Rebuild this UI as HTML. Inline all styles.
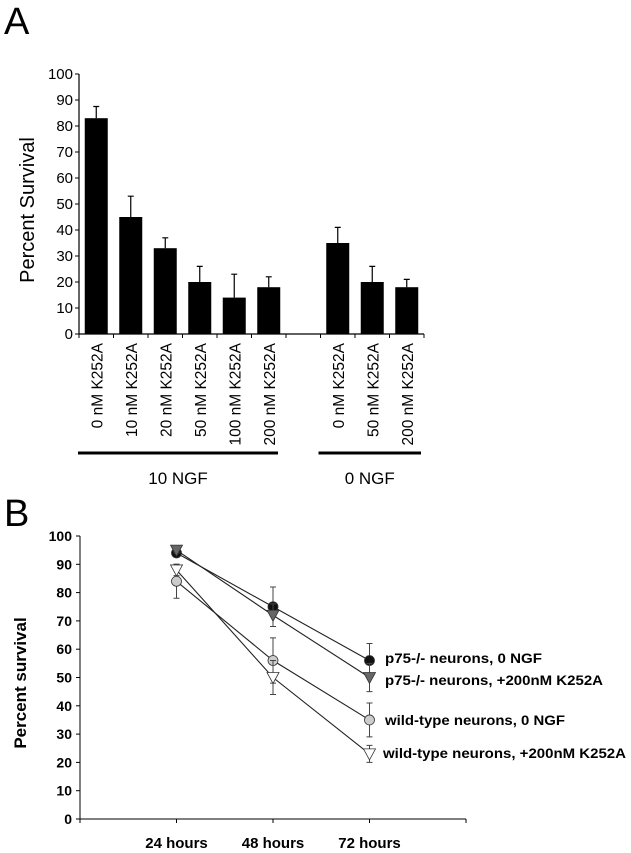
<!DOCTYPE html>
<html><head><meta charset="utf-8"><style>
html,body{margin:0;padding:0;background:#fff;}
svg{display:block;font-family:"Liberation Sans",Arial,sans-serif;}
</style></head><body>
<svg id="fig" width="631" height="853" viewBox="0 0 631 853">
<text x="4" y="34" font-size="38">A</text>
<text x="4" y="526" font-size="38">B</text>
<g id="chartA"></g>
<g id="chartB"></g>
</svg>
<script>
// ---- Chart A data ----
const catsA = ["0 nM K252A","10 nM K252A","20 nM K252A","50 nM K252A","100 nM K252A","200 nM K252A","","0 nM K252A","50 nM K252A","200 nM K252A"];
const valsA = [83,45,33,20,14,18,null,35,20,18];
const errsA = [4.5,8,4,6,9,4,null,6,6,3];
const ticksA = [0,10,20,30,40,50,60,70,80,90,100];
const groupsA = ["10 NGF","0 NGF"];
// ---- Chart B data ----
const timesB = ["24 hours","48 hours","72 hours"];
const seriesNamesB = ["p75-/- neurons, 0 NGF","p75-/- neurons, +200nM K252A","wild-type neurons, 0 NGF","wild-type neurons, +200nM K252A"];
const s1 = [94,75,56], e1 = [1,7,6];
const s2 = [95,72,50], e2 = [1,4,5];
const s3 = [84,56,35], e3 = [6,8,6];
const s4 = [88,50,23], e4 = [2,6,3];
const ticksB = [0,10,20,30,40,50,60,70,80,90,100];

const NS="http://www.w3.org/2000/svg";
function mk(parent,tag,attrs,text){const e=document.createElementNS(NS,tag);for(const k in attrs)e.setAttribute(k,attrs[k]);if(text!==undefined)e.textContent=text;parent.appendChild(e);return e;}

// Chart A
(function(){
const g=document.getElementById('chartA');
const x0=79,x1=424,y0=334,y1=74;
const slot=(x1-x0)/catsA.length;
const y=v=>y0-(v/100)*(y0-y1);
const cx=i=>x0+slot*(i+0.5);
let e=mk(g,'line',{x1:x0,y1:y0,x2:x0,y2:y1,stroke:'#000','stroke-width':1.2});

e=mk(g,'line',{x1:x0,y1:y0,x2:x1,y2:y0,stroke:'#000','stroke-width':1.2});

ticksA.forEach(t=>{
 mk(g,'line',{x1:x0-4,y1:y(t),x2:x0,y2:y(t),stroke:'#000'});
 e=mk(g,'text',{x:x0-6,y:y(t)+5,'font-size':15,'text-anchor':'end'},t);
 
});
for(let i=0;i<=catsA.length;i++) mk(g,'line',{x1:x0+slot*i,y1:y0,x2:x0+slot*i,y2:y0+4,stroke:'#000'});
e=mk(g,'text',{transform:`translate(34,210) rotate(-90)`,'font-size':20,'text-anchor':'middle'},'Percent Survival');

catsA.forEach((c,i)=>{
 if(valsA[i]!==null){
  const bw=23;
  e=mk(g,'rect',{x:cx(i)-bw/2,y:y(valsA[i]),width:bw,height:y0-y(valsA[i]),fill:'#000'});
  
  const top=y(valsA[i]+errsA[i]);
  e=mk(g,'path',{d:`M${cx(i)},${y(valsA[i])}V${top}M${cx(i)-3},${top}H${cx(i)+3}`,stroke:'#000','stroke-width':1.2,fill:'none'});
  
 }
 if(c){
  e=mk(g,'text',{transform:`translate(${cx(i)+6},${y0+9}) rotate(-90)`,'font-size':15.5,'text-anchor':'end'},c);
  
 }
});
const gx=[[x0-1,x0+slot*6-8],[x0+slot*7-2,x1-3]];
groupsA.forEach((gname,k)=>{
 e=mk(g,'line',{x1:gx[k][0],y1:453,x2:gx[k][1],y2:453,stroke:'#000','stroke-width':3});
 
 e=mk(g,'text',{x:(gx[k][0]+gx[k][1])/2,y:484,'font-size':17,'text-anchor':'middle'},gname);
 
});
})();

// Chart B
(function(){
const g=document.getElementById('chartB');
const x0=80,x1=466,y0=819,y1=536;
const x=i=>x0+(i+1)*(x1-x0)/4;
const y=v=>y0-(v/100)*(y0-y1);
let e=mk(g,'line',{x1:x0,y1:y0,x2:x0,y2:y1,stroke:'#000','stroke-width':1});

e=mk(g,'line',{x1:x0,y1:y0,x2:x1,y2:y0,stroke:'#000','stroke-width':1});

ticksB.forEach(t=>{
 mk(g,'line',{x1:x0-4,y1:y(t),x2:x0,y2:y(t),stroke:'#000'});
 e=mk(g,'text',{x:x0-8,y:y(t)+5,'font-size':14,'font-weight':'bold','text-anchor':'end'},t);
 
});
for(let i=0;i<=4;i++) mk(g,'line',{x1:x0+i*(x1-x0)/4,y1:y0,x2:x0+i*(x1-x0)/4,y2:y0+4,stroke:'#000'});
timesB.forEach((t,i)=>{
 e=mk(g,'text',{x:x(i),y:848,'font-size':15,'font-weight':'bold','text-anchor':'middle'},t);
 
});
e=mk(g,'text',{transform:`translate(26,683) rotate(-90)`,'font-size':17,'font-weight':'bold','text-anchor':'middle'},'Percent survival');

const series=[[s1,e1,'circle','#111'],[s2,e2,'down','#666'],[s3,e3,'circle','#ccc'],[s4,e4,'down','#fff']];
const legendY=[658,680,720,753];
const legendW=[157,218,180,243];
series.forEach(([vals,errs,shape,fill],k)=>{
 const pts=vals.map((v,i)=>x(i)+','+y(v)).join(' ');
 e=mk(g,'polyline',{points:pts,fill:'none',stroke:'#222','stroke-width':1.1});
 
 vals.forEach((v,i)=>{
  const a=y(v+errs[i]),b=y(v-errs[i]);
  e=mk(g,'path',{d:`M${x(i)},${a}V${b}M${x(i)-3},${a}H${x(i)+3}M${x(i)-3},${b}H${x(i)+3}`,stroke:'#444','stroke-width':1,fill:'none'});
  
 });
 vals.forEach((v,i)=>{
  const cx=x(i),cy=y(v);
  if(shape==='circle') e=mk(g,'circle',{cx:cx,cy:cy,r:5,fill:fill,stroke:'#333','stroke-width':0.8});
  else e=mk(g,'polygon',{points:`${cx-6},${cy-5} ${cx+6},${cy-5} ${cx},${cy+6}`,fill:fill,stroke:'#333','stroke-width':0.8});
  
 });
 e=mk(g,'text',{x:k===3?383:385,y:legendY[k]+5,'font-size':14,'font-weight':'bold',textLength:legendW[k],lengthAdjust:'spacingAndGlyphs'},seriesNamesB[k]);
 
});
})();
</script>
</body></html>
